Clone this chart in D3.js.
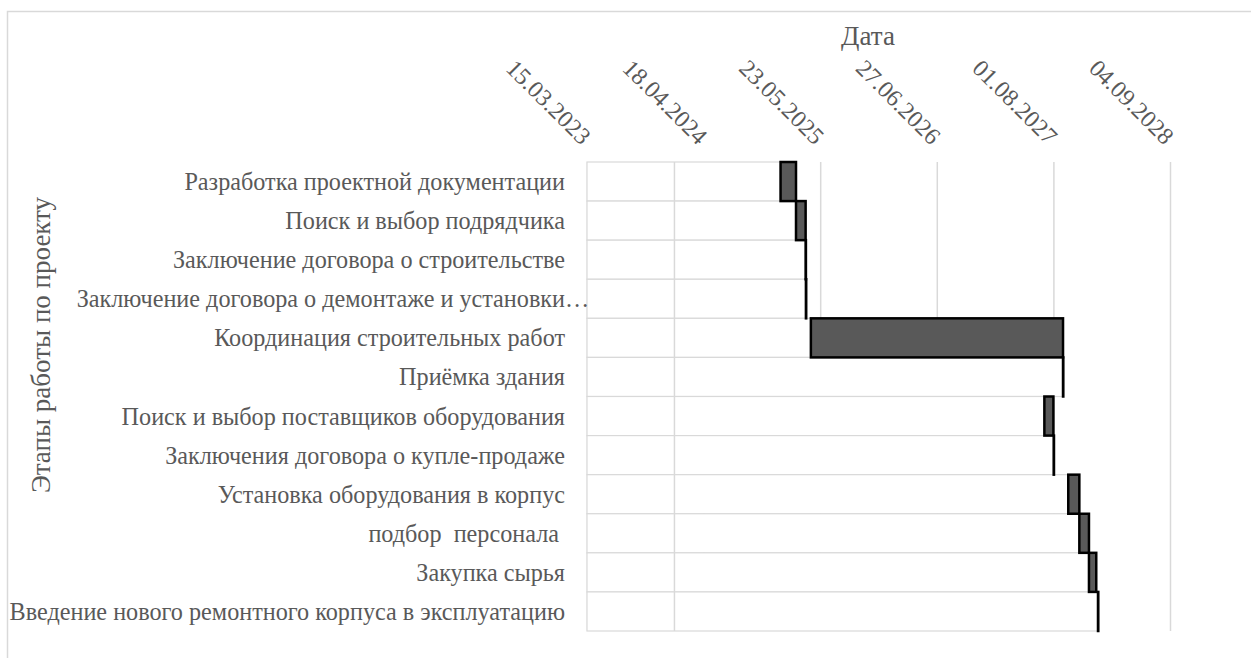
<!DOCTYPE html>
<html>
<head>
<meta charset="utf-8">
<script src="https://cdn.jsdelivr.net/npm/d3@7"></script>
<style>
  html, body { margin: 0; padding: 0; background: #fff; }
</style>
</head>
<body>
<div id="chart"></div>
<script>
// Этапы проекта (сверху вниз)
const tasks = [
  'Разработка проектной документации',
  'Поиск и выбор подрядчика',
  'Заключение договора о строительстве',
  'Заключение договора о демонтаже и установки…',
  'Координация строительных работ',
  'Приёмка здания',
  'Поиск и выбор поставщиков оборудования',
  'Заключения договора о купле-продаже',
  'Установка оборудования в корпус',
  'подбор  персонала ',
  'Закупка сырья',
  'Введение нового ремонтного корпуса в эксплуатацию'
];
const startDates = [
  '2025-01-07', '2025-03-01', '2025-04-03', '2025-04-04', '2025-04-21', '2027-09-03',
  '2027-07-01', '2027-08-02', '2027-09-21', '2027-10-29', '2027-12-01', '2028-01-01'
];
const durations = [53, 33, 1, 1, 865, 1, 31, 1, 38, 33, 25, 1]; // дней
const tickLabels = ['15.03.2023', '18.04.2024', '23.05.2025', '27.06.2026', '01.08.2027', '04.09.2028'];
const axisCross = '09.01.2024';

const parseIso = d3.timeParse('%Y-%m-%d');
const parseRu = d3.timeParse('%d.%m.%Y');
const fmtRu = d3.timeFormat('%d.%m.%Y');

const data = tasks.map((t, i) => {
  const s = parseIso(startDates[i]);
  return { task: t, start: s, end: d3.timeDay.offset(s, durations[i]) };
});
const ticks = tickLabels.map(parseRu);

const W = 1251, H = 658;
const M = { t: 162, r: 81, b: 27, l: 587 };
const TXT = '#595959', GRID = '#d9d9d9';
const FONT = '"Liberation Serif"';

const svg = d3.select('#chart').append('svg')
  .attr('width', W)
  .attr('height', H)
  .attr('viewBox', `0 0 ${W} ${H}`)
  .style('display', 'block')
  .style('font-family', FONT);

// рамка диаграммы
svg.append('rect')
  .attr('x', 7.5).attr('y', 11.5)
  .attr('width', W + 20).attr('height', H + 20)
  .attr('fill', 'none').attr('stroke', GRID).attr('stroke-width', 1.5);

const x = d3.scaleTime()
  .domain([ticks[0], ticks[ticks.length - 1]])
  .range([M.l, W - M.r]);
const y = d3.scaleBand()
  .domain(tasks)
  .range([M.t, H - M.b])
  .padding(0);

// вертикальная сетка
svg.append('g')
  .attr('transform', `translate(0,${M.t})`)
  .call(d3.axisTop(x).tickValues(ticks).tickSize(-(H - M.b - M.t)).tickFormat(''))
  .call(g => g.select('.domain').remove())
  .call(g => g.selectAll('line').attr('stroke', GRID).attr('stroke-width', 1.5));

// невидимая серия (начало) — белая заливка
svg.append('g').selectAll('rect')
  .data(data)
  .enter().append('rect')
  .attr('x', x.range()[0])
  .attr('y', d => y(d.task))
  .attr('width', d => x(d.start) - x.range()[0])
  .attr('height', y.bandwidth())
  .attr('fill', '#fff')
  .attr('stroke', GRID)
  .attr('stroke-width', 1.2);

// длительность
svg.append('g').selectAll('rect')
  .data(data)
  .enter().append('rect')
  .attr('x', d => x(d.start))
  .attr('y', d => y(d.task))
  .attr('width', d => Math.max(0, x(d.end) - x(d.start)))
  .attr('height', y.bandwidth())
  .attr('fill', '#595959')
  .attr('stroke', '#000')
  .attr('stroke-width', 2.5);

// линия вертикальной оси (пересечение)
const xc = x(parseRu(axisCross));
svg.append('line')
  .attr('x1', xc).attr('x2', xc)
  .attr('y1', M.t).attr('y2', H - M.b)
  .attr('stroke', GRID).attr('stroke-width', 1.5);

// подписи дат
svg.append('g').selectAll('text')
  .data(ticks)
  .enter().append('text')
  .attr('transform', d => `translate(${x(d) - 6},146) rotate(45)`)
  .attr('text-anchor', 'end')
  .attr('fill', TXT)
  .style('font-size', '24px')
  .text(d => fmtRu(d));

// подписи этапов
const LBL = 24.2;
svg.append('g').selectAll('text')
  .data(tasks)
  .enter().append('text')
  .attr('x', 565)
  .attr('y', d => y(d) + y.bandwidth() / 2)
  .attr('dy', '0.35em')
  .attr('text-anchor', 'end')
  .attr('fill', TXT)
  .style('font-size', LBL + 'px')
  .style('white-space', 'pre')
  .text(d => d)
  .each(function (d) {
    if (d.endsWith('…')) {
      const tmp = d3.select(this.parentNode).append('text')
        .style('font-size', LBL + 'px').text('…');
      const w = tmp.node().getComputedTextLength();
      tmp.remove();
      d3.select(this).attr('x', 565 + w);
    }
  });

// заголовки осей
svg.append('text')
  .attr('x', 868).attr('y', 45)
  .attr('text-anchor', 'middle')
  .attr('fill', TXT)
  .style('font-size', '27px')
  .text('Дата');

svg.append('text')
  .attr('transform', 'translate(50,345) rotate(-90)')
  .attr('text-anchor', 'middle')
  .attr('fill', TXT)
  .style('font-size', '27px')
  .text('Этапы работы по проекту');
</script>
</body>
</html>
